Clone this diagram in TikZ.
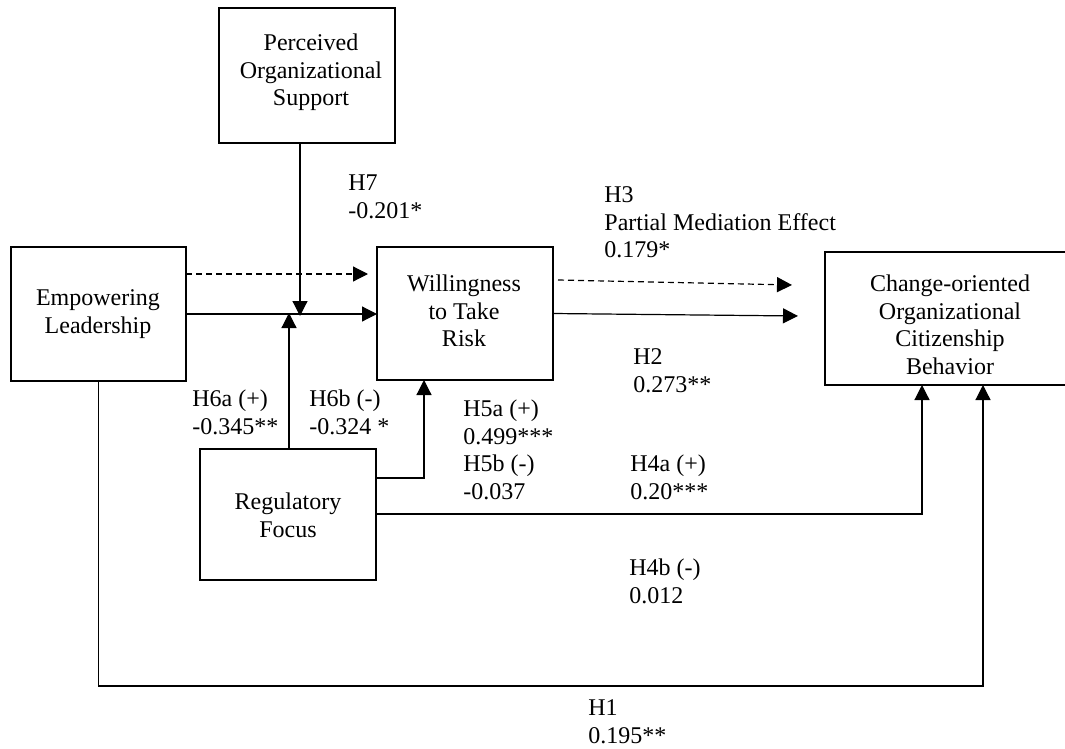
\documentclass[tikz,border=0pt]{standalone}
\usepackage{fontspec}
\setmainfont{Liberation Serif}
\usetikzlibrary{arrows.meta}
\tikzset{
  boxnode/.style={draw, line width=1pt, inner sep=0pt, outer sep=0pt},
  boxtext/.style={inner sep=0pt, align=center, anchor=north, font=\fontsize{12pt}{13.75pt}\selectfont},
  lbl/.style={inner sep=0pt, align=left, anchor=north west, font=\fontsize{12pt}{13.75pt}\selectfont},
  conn/.style={line width=0.6pt, -{Triangle[length=7.5pt,width=7.5pt]}},
  dconn/.style={conn, dash pattern=on 3pt off 2pt},
}
\begin{document}
\begin{tikzpicture}[x=0.5pt,y=-0.5pt]
\useasboundingbox (0,0) rectangle (1065,749);
% boxes
\node[boxnode, minimum width=88pt, minimum height=67.5pt] (pos) at (307,75.5) {};
\node[boxnode, minimum width=87.5pt, minimum height=67pt] (el) at (98.5,314) {};
\node[boxnode, minimum width=88pt, minimum height=66.5pt] (wtr) at (465,313.5) {};
\node[boxnode, minimum width=88pt, minimum height=65.5pt] (rf) at (288,514.5) {};
\node[boxnode, minimum width=125pt, minimum height=66.5pt] (cocb) at (950,318.5) {};
% box texts
\node[boxtext] (postext) at (311,33.5) {Perceived\\Organizational\\Support};
\node[boxtext] (eltext) at (98,289.5) {Empowering\\Leadership};
\node[boxtext] (wtrtext) at (464,274.5) {Willingness\\to Take\\Risk};
\node[boxtext] (rftext) at (288,492.5) {Regulatory\\Focus};
\node[boxtext] (cocbtext) at (950,274.5) {Change-oriented\\Organizational\\Citizenship\\Behavior};
% labels
\node[lbl] (h7) at (348,174.5) {H7\\-0.201*};
\node[lbl] (h3) at (604,186.5) {H3\\Partial Mediation Effect\\0.179*};
\node[lbl] (h2) at (633,348.5) {H2\\0.273**};
\node[lbl] (h6a) at (192,389.5) {H6a (+)\\-0.345**};
\node[lbl] (h6b) at (309,389.5) {H6b (-)\\-0.324 *};
\node[lbl] (h5) at (463,399.5) {H5a (+)\\0.499***\\H5b (-)\\-0.037};
\node[lbl] (h4a) at (630,454.5) {H4a (+)\\0.20***};
\node[lbl] (h4b) at (629,558.5) {H4b (-)\\0.012};
\node[lbl] (h1) at (588,699.5) {H1\\0.195**};
% connectors
\coordinate (dA) at (368,274);
\draw[dconn] (el.east |- dA) -- (dA);
\draw[conn] (el.east) -- (el.east -| wtr.west);
\coordinate (mP) at (300,316);
\draw[conn] (pos.south -| mP) -- (mP);
\coordinate (mR) at (289,313);
\draw[conn] (rf.north -| mR) -- (mR);
\coordinate (bR) at (424,478);
\draw[conn] (rf.east |- bR) -- (bR) -- (bR |- wtr.south);
\coordinate (bC) at (922,514);
\draw[conn] (rf.east |- bC) -- (bC) -- (bC |- cocb.south);
\coordinate (bE) at (983,686);
\draw[conn] (el.south) -- (el.south |- bE) -- (bE) -- (bE |- cocb.south);
\coordinate (sD) at (558,280);
\coordinate (eD) at (792,285);
\draw[dconn] ([xshift=2.5pt]wtr.east |- sD) -- (eD);
\coordinate (eS) at (798,316);
\draw[conn] (wtr.east) -- (eS);
\end{tikzpicture}
\end{document}
